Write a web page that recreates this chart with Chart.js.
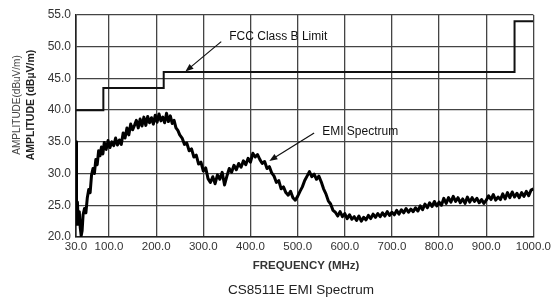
<!DOCTYPE html>
<html>
<head>
<meta charset="utf-8">
<script src="https://cdn.jsdelivr.net/npm/chart.js@4"></script>
<style>
  html, body { margin: 0; padding: 0; background: #fff; }
  #wrap { width: 554px; height: 300px; position: relative; }
</style>
</head>
<body>
<div id="wrap"><canvas id="emi"></canvas></div>
<script>
// ── Données ───────────────────────────────────────────────────────
const xTicks = [30, 100, 200, 300, 400, 500, 600, 700, 800, 900, 1000];

// Limite FCC classe B (en escalier)
const limitFreq  = [30, 88, 216, 960, 1000];
const limitLevel = [40, 43.5, 46, 54, 54];

// Spectre EMI mesuré (MHz / dBµV/m)
const emiFreq = [
  30, 31, 33, 35, 37, 39, 41, 43, 45, 48, 51, 54, 57, 60, 63, 66, 69, 72, 75, 78,
  81, 84, 87, 90, 94, 98, 102, 106, 110, 114, 118, 122, 126, 130, 134, 138, 142, 146, 150, 154,
  158, 162, 166, 170, 174, 178, 182, 186, 190, 194, 198, 202, 206, 210, 214, 218, 222, 226, 230, 234,
  238, 242, 246, 250, 255, 260, 265, 270, 275, 280, 285, 290, 295, 300, 305, 310, 315, 320, 325, 330,
  335, 340, 345, 350, 355, 360, 365, 370, 375, 380, 385, 390, 395, 400, 405, 410, 415, 420, 425, 430,
  435, 440, 445, 450, 455, 460, 465, 470, 475, 480, 485, 490, 495, 500, 505, 510, 515, 520, 525, 530,
  535, 540, 545, 550, 555, 560, 565, 570, 575, 580, 585, 590, 595, 600, 605, 610, 615, 620, 625, 630,
  635, 640, 645, 650, 655, 660, 665, 670, 675, 680, 685, 690, 695, 700, 705, 710, 715, 720, 725, 730,
  735, 740, 745, 750, 755, 760, 765, 770, 775, 780, 785, 790, 795, 800, 805, 810, 815, 820, 825, 830,
  835, 840, 845, 850, 855, 860, 865, 870, 875, 880, 885, 890, 895, 900, 905, 910, 915, 920, 925, 930,
  935, 940, 945, 950, 955, 960, 965, 970, 975, 980, 985, 990, 995, 1000
];
const emiLevel = [
  35, 22, 25.5, 22, 24, 21.5, 20.2, 21, 23.5, 24.5, 23.8, 26.2, 27.5, 27, 29.8, 30.8, 30, 32.2, 31.4, 33.6,
  32.8, 34.2, 33.1, 34.9, 33.8, 35.2, 34.1, 35, 34.4, 35.6, 34.5, 35.3, 34.6, 36.4, 35.6, 37.2, 36.1, 37.8, 36.9, 37.6,
  38.4, 37.2, 38.6, 37.5, 38.9, 37.6, 39, 38, 38.8, 37.8, 39.2, 38.1, 39.4, 38.3, 38.9, 38, 39.5, 38.2, 39.1, 37.9,
  38.4, 37.2, 36.8, 36.1, 35.6, 34.6, 34.8, 33.6, 33.9, 32.6, 32.9, 31.5, 31.8, 30.4, 30.9, 29.2, 28.6, 29.5, 28.4, 29.8,
  29.1, 30.2, 28.2, 29.6, 30.8, 30.2, 31.3, 30.6, 31.6, 31, 32, 31.4, 32.4, 31.8, 33.2, 32.6, 33, 32.2, 31.6, 31.9,
  30.8, 31.1, 30.1, 29.6, 28.6, 28.9, 27.6, 27.9, 27, 26.6, 27.2, 26.2, 25.8, 26.4, 27.2, 27.9, 28.9, 29.6, 30.3, 29.5,
  29.9, 29.1, 29.6, 28.7, 27.6, 26.8, 25.7, 25.2, 24.2, 23.9, 23.3, 24, 23.2, 23.7, 22.9, 23.5, 22.8, 23.2, 22.6, 23.3,
  22.5, 23.1, 22.7, 23.4, 22.9, 23.6, 23.1, 23.7, 23.2, 23.8, 23.3, 24, 23.4, 23.9, 23.5, 24.2, 23.6, 24.3, 23.8, 24.5,
  23.9, 24.4, 24, 24.6, 24.1, 24.9, 24.3, 25.2, 24.6, 25.4, 24.8, 25.6, 24.9, 25.5, 25, 26.1, 25.3, 26.2, 25.5, 26.4,
  25.6, 26.2, 25.4, 26, 25.3, 26.3, 25.5, 26.2, 25.6, 26.1, 25.4, 25.9, 25.3, 25.8, 26.5, 25.9, 26.7, 25.8, 26.3, 25.9,
  26.8, 26, 27, 26.2, 27.1, 26.3, 26.9, 26.2, 27, 26.4, 27.2, 26.5, 27.4, 27.6
];

// ── Annotations (texte + flèche), en coordonnées de données ───────
const notes = [
  { text: "FCC Class B Limit", tx: 355, ty: 51.6, from: [338, 50.8], to: [262, 46.1] },
  { text: "EMI Spectrum",      tx: 552, ty: 36.6, from: [535, 36.4], to: [440, 32.0] },
];

const FONT = "'Liberation Sans', Arial, sans-serif";
const NARROW = "'Liberation Sans Narrow', 'Liberation Sans', Arial, sans-serif";

function drawArrow(ctx, x1, y1, x2, y2) {
  const a = Math.atan2(y2 - y1, x2 - x1);
  const len = 8, w = 3.2;
  ctx.beginPath();
  ctx.moveTo(x1, y1);
  ctx.lineTo(x2 - Math.cos(a) * len * 0.8, y2 - Math.sin(a) * len * 0.8);
  ctx.stroke();
  ctx.beginPath();
  ctx.moveTo(x2, y2);
  ctx.lineTo(x2 - Math.cos(a) * len - Math.sin(a) * w, y2 - Math.sin(a) * len + Math.cos(a) * w);
  ctx.lineTo(x2 - Math.cos(a) * len + Math.sin(a) * w, y2 - Math.sin(a) * len - Math.cos(a) * w);
  ctx.closePath();
  ctx.fill();
}

const extras = {
  id: "extras",
  afterDraw(chart) {
    const { ctx, scales: { x, y } } = chart;
    ctx.save();
    ctx.fillStyle = "#111";
    ctx.strokeStyle = "#111";
    ctx.lineWidth = 1.2;

    // annotations
    ctx.font = `12px ${FONT}`;
    ctx.textBaseline = "middle";
    ctx.textAlign = "left";
    notes.forEach((n) => {
      ctx.fillText(n.text, x.getPixelForValue(n.tx), y.getPixelForValue(n.ty));
      drawArrow(ctx,
        x.getPixelForValue(n.from[0]), y.getPixelForValue(n.from[1]),
        x.getPixelForValue(n.to[0]),   y.getPixelForValue(n.to[1]));
    });

    // titre axe X + légende sous le graphique
    ctx.textAlign = "center";
    ctx.fillStyle = "#333";
    ctx.font = `bold 11.5px ${FONT}`;
    ctx.fillText("FREQUENCY (MHz)", 306, 266);
    ctx.fillStyle = "#222";
    ctx.font = `13.5px ${FONT}`;
    ctx.fillText("CS8511E EMI Spectrum", 301, 290);

    // titres axe Y (deux lignes superposées)
    ctx.save();
    ctx.translate(17, 105);
    ctx.rotate(-Math.PI / 2);
    ctx.fillStyle = "#444";
    ctx.font = `10px ${FONT}`;
    ctx.fillText("AMPLITUDE(dBuV/m)", 0, 0);
    ctx.restore();
    ctx.save();
    ctx.translate(31, 105);
    ctx.rotate(-Math.PI / 2);
    ctx.fillStyle = "#222";
    ctx.font = `bold 10.5px ${NARROW}`;
    ctx.fillText("AMPLITUDE (dB\u00b5V/m)", 0, 0);
    ctx.restore();

    ctx.restore();
  },
};

const toXY = (xs, ys) => xs.map((v, i) => ({ x: v, y: ys[i] }));

new Chart(document.getElementById("emi"), {
  type: "line",
  data: {
    datasets: [
      {
        label: "FCC Class B Limit",
        data: toXY(limitFreq, limitLevel),
        stepped: "before",
        borderColor: "#111",
        borderWidth: 2,
        pointRadius: 0,
        fill: false,
      },
      {
        label: "EMI Spectrum",
        data: toXY(emiFreq, emiLevel),
        borderColor: "#000",
        borderWidth: 3,
        borderJoinStyle: "round",
        pointRadius: 0,
        tension: 0,
        fill: false,
      },
    ],
  },
  options: {
    responsive: true,
    maintainAspectRatio: false,
    animation: false,
    layout: { padding: { left: 0, right: 19, top: 15, bottom: 0 } },
    plugins: { legend: { display: false }, tooltip: { enabled: false } },
    scales: {
      x: {
        type: "linear",
        min: 30,
        max: 1000,
        afterBuildTicks: (axis) => { axis.ticks = xTicks.map((v) => ({ value: v })); },
        afterFit: (axis) => { axis.height = 63; },
        ticks: {
          color: "#333",
          font: { family: FONT, size: 11.5 },
          padding: 3,
          maxRotation: 0,
          autoSkip: false,
          callback: (v) => Number(v).toFixed(1),
        },
        grid: { color: "#444", lineWidth: 1.3, drawTicks: false },
        border: { color: "#222", width: 1.6 },
      },
      y: {
        min: 20,
        max: 55,
        afterFit: (axis) => { axis.width = 76; },
        ticks: {
          stepSize: 5,
          color: "#333",
          font: { family: FONT, size: 12 },
          padding: 5,
          callback: (v) => Number(v).toFixed(1),
        },
        grid: { color: "#444", lineWidth: 1.3, drawTicks: false },
        border: { color: "#222", width: 1.6 },
      },
    },
  },
  plugins: [extras],
});
</script>
</body>
</html>
